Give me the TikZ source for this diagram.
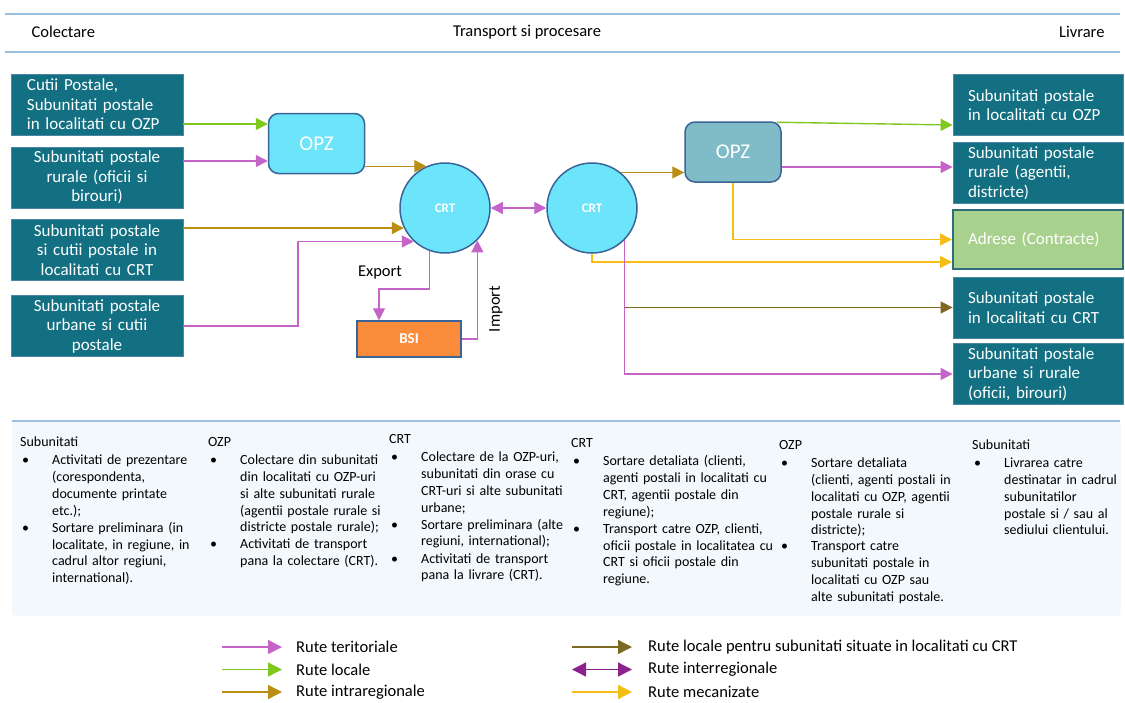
\documentclass[tikz,border=0pt]{standalone}
\usepackage{fontspec}
\setmainfont{Carlito}
\usetikzlibrary{arrows.meta,positioning,calc}

\definecolor{boxteal}{RGB}{18,112,130}
\definecolor{boxline}{RGB}{75,135,165}
\definecolor{hubfill}{RGB}{108,229,250}
\definecolor{hubline}{RGB}{58,100,150}
\definecolor{opzgray}{RGB}{128,188,200}
\definecolor{bsiorange}{RGB}{251,140,60}
\definecolor{adrgreen}{RGB}{169,209,142}
\definecolor{adrline}{RGB}{45,110,125}
\definecolor{cterit}{RGB}{197,100,200}
\definecolor{clocal}{RGB}{128,200,30}
\definecolor{cintra}{RGB}{185,142,18}
\definecolor{clocalcrt}{RGB}{125,105,35}
\definecolor{cinter}{RGB}{140,35,140}
\definecolor{cmec}{RGB}{245,190,20}
\definecolor{rulecol}{RGB}{155,192,225}
\definecolor{panelbg}{RGB}{243,248,252}

% one bullet item of the activity columns
\newcommand{\itm}[1]{\makebox[32pt][l]{\hspace{2pt}\textbullet}\parbox[t]{200pt}{\raggedright #1}}

\begin{document}
\begin{tikzpicture}[
		x=1pt, y=-1pt,
		>={Triangle[length=12pt,width=12pt]},
		route/.style={line width=1.4pt, ->},
		terit/.style={route, draw=cterit},
		local/.style={route, draw=clocal},
		intra/.style={route, draw=cintra},
		localcrt/.style={route, draw=clocalcrt},
		inter/.style={route, <->, draw=cinter},
		mec/.style={route, draw=cmec},
		legarr/.style={>={Triangle[length=14pt,width=14pt]}},
		rule/.style={draw=rulecol, line width=1.6pt},
		hdr/.style={font=\fontsize{16.5}{19}\selectfont},
		lbl/.style={font=\fontsize{16.5}{19}\selectfont},
		leg/.style={anchor=west, inner sep=0pt, font=\fontsize{16.5}{19}\selectfont},
		srcbox/.style={draw=boxline, line width=0.8pt, fill=boxteal, text=white,
			minimum width=172pt, minimum height=61pt, inner sep=0pt, text width=140pt,
			font=\fontsize{17}{19.5}\selectfont},
		dstbox/.style={srcbox, minimum width=170pt, align=left},
		hub/.style={circle, draw=hubline, line width=1.5pt, fill=hubfill, minimum size=90pt,
			text=white, font=\bfseries\fontsize{13}{15}\selectfont},
		opz/.style={rounded corners=10pt, draw=hubline, line width=1.5pt, minimum width=96pt,
			minimum height=60pt, text=white, font=\fontsize{21}{24}\selectfont},
		bsibox/.style={draw=hubline, line width=1.5pt, fill=bsiorange, minimum width=104pt,
			minimum height=36pt, text=white, font=\bfseries\fontsize{15}{18}\selectfont},
		notes/.style={anchor=north west, inner sep=0pt, text width=240pt, align=left,
			font=\fontsize{14}{16.8}\selectfont}
		]
		\useasboundingbox (0,0) rectangle (1125,702);
		
		% --------------------------------------------------
		% Header
		% --------------------------------------------------
		\draw[rule] (5,14) -- (1120,14);
		\draw[rule] (5,52) -- (1120,52);
		\node[hdr, anchor=west] (hcol) at (28,32) {Colectare};
		\node[hdr] (htr) at (527,32) {Transport si procesare};
		\node[hdr, anchor=east] (hliv) at (1108,32) {Livrare};
		
		% --------------------------------------------------
		% Collection side
		% --------------------------------------------------
		\node[srcbox, align=left] (src1) at (97,104.5) {Cutii Postale,\\Subunitati postale\\in localitati cu OZP};
		\node[srcbox, align=center] (src2) at (97,177.5) {Subunitati postale\\rurale (oficii si\\birouri)};
		\node[srcbox, align=center] (src3) at (97,250) {Subunitati postale\\si cutii postale in\\localitati cu CRT};
		\node[srcbox, align=center] (src4) at (97,326) {Subunitati postale\\urbane si cutii\\postale};
		
		\node[opz, fill=hubfill] (opzL) at (316.5,143.5) {OPZ};
		\node[hub] (crtL) at (445,208) {CRT};
		\node[bsibox] (bsi) at (409,339) {BSI};
		
		% --------------------------------------------------
		% Delivery side
		% --------------------------------------------------
		\node[hub] (crtR) at (592,208) {CRT};
		\node[opz, fill=opzgray] (opzR) at (733,152) {OPZ};
		
		\node[dstbox] (dst1) at (1038,105) {Subunitati postale\\in localitati cu OZP};
		\node[dstbox] (dst2) at (1038,173) {Subunitati postale\\rurale (agentii,\\districte)};
		\node[dstbox, fill=adrgreen, draw=adrline, line width=2pt, minimum height=59pt] (dst3) at (1038,239.5) {Adrese (Contracte)};
		\node[dstbox] (dst4) at (1038,307.5) {Subunitati postale\\in localitati cu CRT};
		\node[dstbox] (dst5) at (1038,374) {Subunitati postale\\urbane si rurale\\(oficii, birouri)};
		
		% --------------------------------------------------
		% Routes
		% --------------------------------------------------
		\path ($(opzL.west)+(0,-19.5)$) coordinate (g1);
		\path ($(opzL.west)+(0,17.5)$) coordinate (p1);
		\draw[local] (src1.east |- g1) -- (g1);
		\draw[terit] (src2.east |- p1) -- (p1);
		\draw[intra] (opzL.east |- crtL.114) -- (crtL.114);
		\draw[intra] (src3.east |- crtL.206) -- (crtL.206);
		\draw[terit] (src4.east) -| ([xshift=-116pt]crtL.227) -- (crtL.227);
		
		\draw[terit] (crtL.250) -- ++(0,38) -| ([xshift=-30pt]bsi.north);
		\node[lbl] (exp) at (380,273) {Export};
		\draw[terit] (bsi.east) -| (crtL.315);
		\node[lbl, rotate=90] (imp) at (496,309) {Import};
		
		\draw[terit, <->] (crtL.east) -- (crtR.west);
		
		\draw[intra] (crtR.51) -- (opzR.west |- crtR.51);
		\draw[local] ([xshift=-5pt,yshift=-1pt]opzR.north east) -- ($(dst1.west)+(0,20)$);
		\path ($(opzR.east)+(0,15)$) coordinate (p2);
		\draw[terit] (p2) -- (dst2.west |- p2);
		\draw[mec] (opzR.south) |- (dst3.west);
		\draw[mec] (crtR.south) |- ($(dst3.west)+(0,22.5)$);
		\draw[localcrt] (crtR.315 |- dst4.west) -- (dst4.west);
		\draw[terit] (crtR.315) |- (dst5.west);
		
		% --------------------------------------------------
		% Activities
		% --------------------------------------------------
		\fill[panelbg, rounded corners=4pt] (12,421) rectangle (1121,616);
		\draw[rule] (12,421) -- (1120,421);
		
		\node[notes] (n1) at (20,435) {\strut Subunitati\\[1pt]
			\itm{Activitati de prezentare\\(corespondenta,\\documente printate\\etc.);}\\[4pt]
			\itm{Sortare preliminara (in\\localitate, in regiune, in\\cadrul altor regiuni,\\international).}};
		\node[notes] (n2) at (208,435) {\strut OZP\\[1pt]
			\itm{Colectare din subunitati\\din localitati cu OZP-uri\\si alte subunitati rurale\\(agentii postale rurale si\\districte postale rurale);}\\[4pt]
			\itm{Activitati de transport\\pana la colectare (CRT).}};
		\node[notes] (n3) at (389,432) {\strut CRT\\[1pt]
			\itm{Colectare de la OZP-uri,\\subunitati din orase cu\\CRT-uri si alte subunitati\\urbane;}\\[4pt]
			\itm{Sortare preliminara (alte\\regiuni, international);}\\[4pt]
			\itm{Activitati de transport\\pana la livrare (CRT).}};
		\node[notes] (n4) at (571,436) {\strut CRT\\[1pt]
			\itm{Sortare detaliata (clienti,\\agenti postali in localitati cu\\CRT, agentii postale din\\regiune);}\\[4pt]
			\itm{Transport catre OZP, clienti,\\oficii postale in localitatea cu\\CRT si oficii postale din\\regiune.}};
		\node[notes] (n5) at (779,438) {\strut OZP\\[1pt]
			\itm{Sortare detaliata\\(clienti, agenti postali in\\localitati cu OZP, agentii\\postale rurale si\\districte);}\\[4pt]
			\itm{Transport catre\\subunitati postale in\\localitati cu OZP sau\\alte subunitati postale.}};
		\node[notes] (n6) at (972,438) {\strut Subunitati\\[1pt]
			\itm{Livrarea catre\\destinatar in cadrul\\subunitatilor\\postale si / sau al\\sediului clientului.}};
		
		% --------------------------------------------------
		% Legend
		% --------------------------------------------------
		\foreach \sty/\txt [count=\i] in {terit/Rute teritoriale, local/Rute locale, intra/Rute intraregionale}
		{
			\node[leg] (lt\i) at (296,624.5+22.5*\i) {\txt};
			\coordinate (la\i) at ($(lt\i.west)+(-74,0)$);
			\draw[\sty, legarr] (la\i) -- ([xshift=-14pt]lt\i.west);
		}
		\foreach \sty/\txt [count=\i] in {localcrt/Rute locale pentru subunitati situate in localitati cu CRT, inter/Rute interregionale, mec/Rute mecanizate}
		{
			\node[leg] (rt\i) at (648,624.5+22.5*\i) {\txt};
			\coordinate (ra\i) at ($(rt\i.west)+(-76,0)$);
			\draw[\sty, legarr] (ra\i) -- ([xshift=-16pt]rt\i.west);
		}
		
	\end{tikzpicture}
\end{document}
